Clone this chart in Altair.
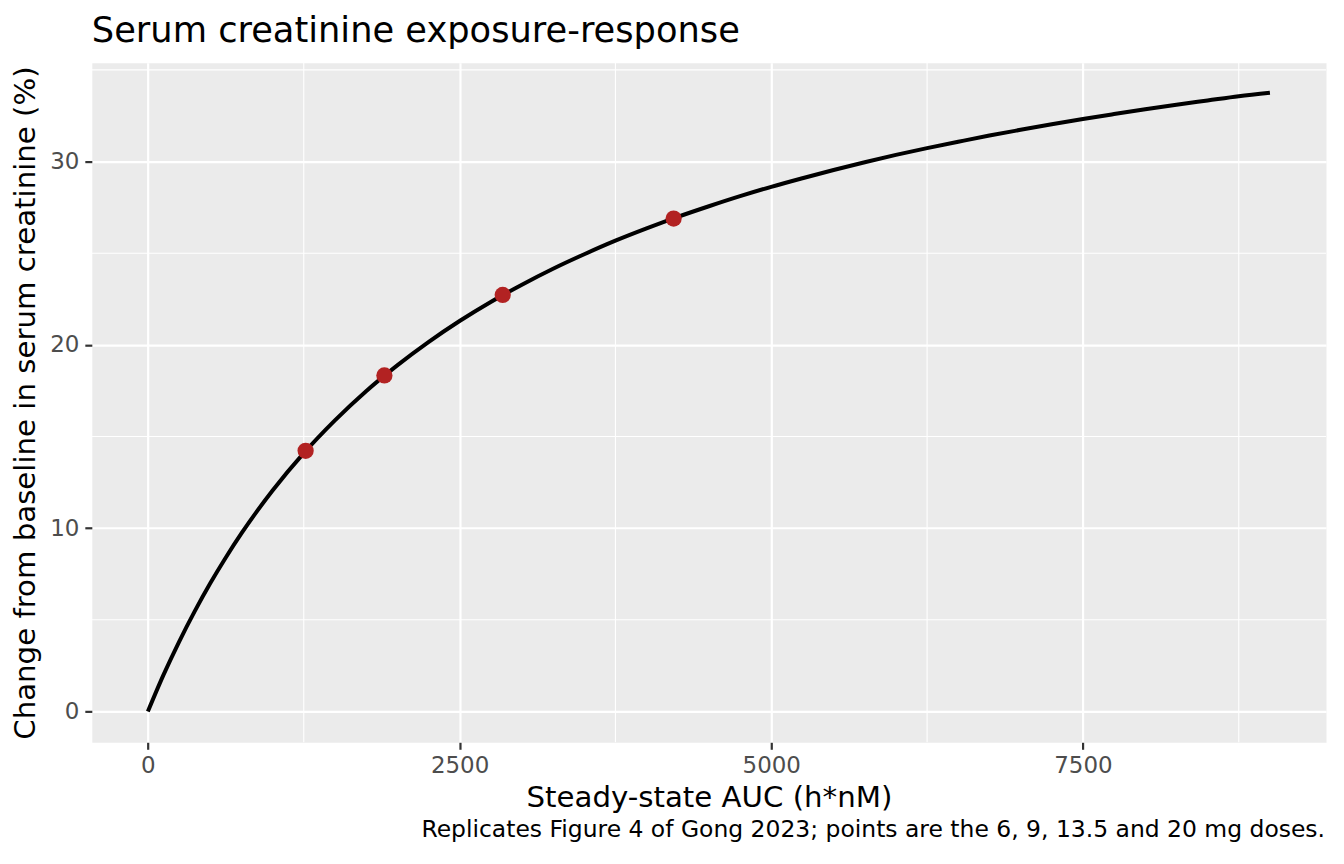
import altair as alt
import pandas as pd

# ---- data ----
auc_curve = [0, 125, 250, 375, 500, 625, 750, 1000, 1250, 1500, 1750, 2000, 2250, 2500,
             2750, 3000, 3250, 3500, 3750, 4000, 4250, 4500, 4750, 5000, 5250, 5500,
             5750, 6000, 6250, 6500, 6750, 7000, 7250, 7500, 7750, 8000, 8250, 8500,
             8750, 9000]
chg_curve = [0.0, 1.99, 3.80, 5.46, 6.99, 8.40, 9.71, 12.05, 14.09, 15.88, 17.47, 18.88,
             20.15, 21.30, 22.34, 23.28, 24.15, 24.94, 25.68, 26.35, 26.98, 27.56, 28.11,
             28.62, 29.09, 29.54, 29.96, 30.36, 30.73, 31.08, 31.42, 31.73, 32.03, 32.32,
             32.59, 32.85, 33.10, 33.33, 33.56, 33.75]

dose_auc = [1265, 1897, 2846, 4217]
dose_chg = [14.22, 18.33, 22.72, 26.89]

x_ticks = [0, 2500, 5000, 7500]
y_ticks = [0, 10, 20, 30]
x_minor = [1250, 3750, 6250, 8750]
y_minor = [5, 15, 25, 35]

title_text = "Serum creatinine exposure-response"
x_title = "Steady-state AUC (h*nM)"
y_title = "Change from baseline in serum creatinine (%)"
caption_text = "Replicates Figure 4 of Gong 2023; points are the 6, 9, 13.5 and 20 mg doses."

FONT = "DejaVu Sans"
W, H = 1237, 681

curve_df = pd.DataFrame({"x": auc_curve, "y": chg_curve})
dose_df = pd.DataFrame({"x": dose_auc, "y": dose_chg})
xminor_df = pd.DataFrame({"x": x_minor})
yminor_df = pd.DataFrame({"y": y_minor})
cap_df = pd.DataFrame({"cap": [caption_text]})

xs = alt.Scale(domain=[-450, 9450], nice=False, zero=False)
ys = alt.Scale(domain=[-1.685, 35.385], nice=False, zero=False)

x_axis = alt.Axis(values=x_ticks, format="d", title=x_title, grid=True,
                  titleX=W / 2, titleY=64, titleBaseline="alphabetic", titleAlign="center",
                  labelPadding=5)
y_axis = alt.Axis(values=y_ticks, format="d", title=y_title, grid=True,
                  titleX=-57, titleY=H / 2, titleBaseline="alphabetic", titleAlign="center",
                  labelPadding=6)

X = alt.X("x:Q", scale=xs, axis=x_axis)
Y = alt.Y("y:Q", scale=ys, axis=y_axis)

minor_v = alt.Chart(xminor_df).mark_rule(color="white", strokeWidth=1.1).encode(x=X)
minor_h = alt.Chart(yminor_df).mark_rule(color="white", strokeWidth=1.1).encode(y=Y)

line = alt.Chart(curve_df).mark_line(color="black", strokeWidth=4,
                                     interpolate="monotone").encode(x=X, y=Y)
pts = alt.Chart(dose_df).mark_point(filled=True, color="#B22222", size=265,
                                    opacity=1).encode(x=X, y=Y)
cap = alt.Chart(cap_df).mark_text(align="right", baseline="alphabetic", fontSize=23.5,
                                  font=FONT, color="black").encode(
    x=alt.value(W - 1), y=alt.value(776.3), text="cap:N")

chart = alt.layer(minor_v, minor_h, line, pts, cap).properties(
    width=W, height=H,
    background="white",
    title=alt.TitleParams(title_text, anchor="start", frame="group", fontSize=35.3,
                          font=FONT, color="black", fontWeight="normal", offset=13),
    autosize=alt.AutoSizeParams(type="none"),
    padding={"left": 84, "top": 54, "right": 10, "bottom": 105},
).configure_view(
    fill="#EBEBEB", strokeOpacity=0
).configure_axis(
    domain=False, gridColor="white", gridWidth=2.2, tickColor="#333333",
    tickWidth=2.2, tickSize=7, labelColor="#4D4D4D", labelFont=FONT, labelFontSize=23,
    titleFont=FONT, titleFontSize=29.3, titleColor="black", titleFontWeight="normal"
)

chart.save("out.html", embed_options={"renderer": "svg", "actions": False})
